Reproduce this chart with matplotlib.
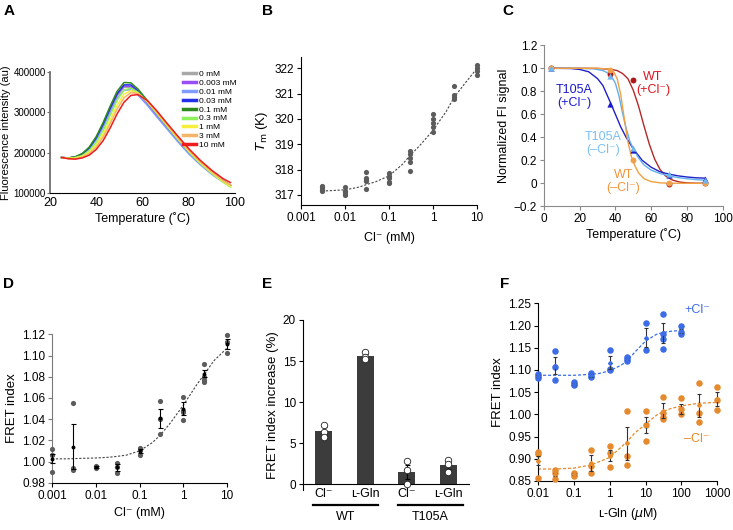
import matplotlib
matplotlib.use('Agg')
import matplotlib.pyplot as plt
import matplotlib.transforms as mtransforms

plt.rcParams['font.family'] = ['Liberation Sans', 'DejaVu Sans']
plt.rcParams['font.size'] = 8
plt.rcParams['axes.linewidth'] = 0.8
plt.rcParams['xtick.major.size'] = 3
plt.rcParams['ytick.major.size'] = 3
plt.rcParams['xtick.major.width'] = 0.8
plt.rcParams['ytick.major.width'] = 0.8
plt.rcParams['xtick.major.pad'] = 2
plt.rcParams['ytick.major.pad'] = 2

# ---------------- A: thermal melt curves (values in thousands of au)
temps_a = [25, 28, 31, 34, 37, 40, 43, 46, 49, 52, 55, 58, 62, 66, 70, 75, 80, 85, 90, 95, 98]
conc_a = ['0 mM', '0.003 mM', '0.01 mM', '0.03 mM', '0.1 mM', '0.3 mM', '1 mM', '3 mM', '10 mM']
colors_a = ['#a8a8a8', '#9a4cf5', '#7f9cff', '#2430e8', '#2e8a1c', '#8ef25a', '#f7ef3c', '#f4b46a', '#ee1c1c']
fl_0 = [188, 187, 189, 196, 210, 233, 266, 304, 340, 362, 362, 348, 322, 294, 267, 233, 201, 173, 149, 129, 119]
fl_0003 = [188, 187, 189, 197, 212, 236, 270, 308, 344, 365, 364, 349, 322, 294, 266, 232, 200, 172, 148, 128, 118]
fl_001 = [188, 187, 189, 196, 210, 232, 263, 300, 334, 355, 356, 343, 318, 290, 263, 229, 197, 170, 146, 127, 117]
fl_003 = [188, 187, 189, 197, 212, 237, 271, 310, 346, 368, 368, 354, 327, 299, 271, 237, 204, 175, 150, 129, 119]
fl_01 = [188, 187, 190, 198, 214, 240, 275, 315, 352, 374, 373, 358, 330, 302, 274, 240, 206, 177, 152, 130, 119]
fl_03 = [188, 186, 188, 193, 205, 225, 255, 292, 330, 355, 360, 350, 326, 298, 270, 235, 202, 173, 148, 126, 115]
fl_1 = [188, 186, 187, 191, 201, 219, 246, 281, 318, 345, 354, 348, 327, 300, 272, 237, 204, 175, 150, 128, 117]
fl_3 = [188, 185, 185, 189, 198, 214, 239, 272, 308, 336, 349, 346, 328, 302, 274, 239, 206, 177, 152, 130, 120]
fl_10 = [188, 185, 184, 187, 194, 208, 230, 261, 296, 325, 342, 344, 330, 305, 277, 243, 210, 181, 156, 135, 126]
curves_a = [fl_0, fl_0003, fl_001, fl_003, fl_01, fl_03, fl_1, fl_3, fl_10]

# ---------------- B: Tm vs Cl-
cl_b = [0.003, 0.01, 0.03, 0.1, 0.3, 1, 3, 10]
tm_b = [[317.35, 317.3, 317.25, 317.2, 317.15],
        [317.3, 317.15, 317.05, 317.0, 317.1],
        [317.9, 317.65, 317.55, 317.6, 317.25],
        [317.85, 317.75, 317.65, 317.5, 317.45],
        [318.75, 318.6, 318.45, 318.3, 317.95],
        [320.2, 320.0, 319.85, 319.7, 319.5],
        [321.3, 320.95, 320.85, 320.8],
        [322.15, 322.0, 321.9, 321.75]]
fit_b_x = [0.003, 0.005, 0.01, 0.02, 0.03, 0.05, 0.1, 0.2, 0.3, 0.5, 1, 2, 3, 5, 10]
fit_b_y = [317.15, 317.17, 317.2, 317.3, 317.4, 317.52, 317.75, 318.2, 318.55, 318.95, 319.55, 320.3, 320.85, 321.35, 322.0]

# ---------------- C: normalized FI signal
temp_c = [4, 37, 50, 70, 90]
wt_cl = [1.0, 0.95, 0.90, -0.01, 0.0]
wt_nocl = [1.0, 0.985, 0.20, 0.005, 0.0]
t105a_cl = [1.0, 0.69, 0.29, 0.075, 0.04]
t105a_nocl = [1.0, 0.93, 0.31, 0.08, 0.025]
fit_wt_cl_t = [4, 20, 30, 38, 41, 44, 47, 50, 53, 56, 59, 62, 65, 68, 72, 76, 80, 85, 90]
fit_wt_cl_y = [1.0, 1.0, 0.999, 0.99, 0.98, 0.955, 0.91, 0.81, 0.67, 0.5, 0.34, 0.21, 0.12, 0.065, 0.028, 0.011, 0.004, 0.001, 0.0]
fit_wt_nocl_t = [4, 20, 30, 35, 37, 39, 41, 43, 45, 47, 49, 51, 53, 56, 60, 65, 70, 80, 90]
fit_wt_nocl_y = [1.0, 1.0, 1.0, 0.995, 0.99, 0.97, 0.91, 0.77, 0.56, 0.36, 0.23, 0.15, 0.09, 0.04, 0.015, 0.004, 0.001, 0.0, 0.0]
fit_t_cl_t = [4, 15, 20, 25, 30, 33, 35, 37, 40, 43, 46, 50, 55, 60, 65, 70, 75, 80, 85, 90]
fit_t_cl_y = [1.0, 0.998, 0.99, 0.97, 0.91, 0.85, 0.78, 0.71, 0.6, 0.49, 0.4, 0.30, 0.2, 0.14, 0.1, 0.08, 0.065, 0.055, 0.048, 0.045]
fit_t_nocl_t = [4, 20, 28, 33, 37, 40, 42, 44, 46, 48, 50, 53, 56, 60, 65, 70, 75, 80, 85, 90]
fit_t_nocl_y = [1.0, 1.0, 0.995, 0.98, 0.95, 0.87, 0.76, 0.61, 0.48, 0.37, 0.30, 0.22, 0.16, 0.115, 0.085, 0.065, 0.05, 0.04, 0.032, 0.027]

# ---------------- D: FRET index vs Cl-
cl_d = [0.001, 0.003, 0.01, 0.03, 0.1, 0.3, 1, 3, 10]
fret_d = [[1.012, 1.006, 0.990],
          [1.055, 0.994, 0.992],
          [0.996, 0.995, 0.994],
          [0.999, 0.995, 0.989],
          [1.013, 1.011, 1.006],
          [1.0575, 1.040, 1.026],
          [1.061, 1.048, 1.047, 1.039],
          [1.092, 1.080, 1.077, 1.075],
          [1.119, 1.113, 1.102]]
mean_d = [1.0027, 1.014, 0.995, 0.9945, 1.010, 1.041, 1.050, 1.083, 1.111]
err_d = [0.004, 0.021, 0.001, 0.003, 0.002, 0.009, 0.0065, 0.003, 0.005]
fit_d_x = [0.001, 0.002, 0.005, 0.01, 0.02, 0.03, 0.05, 0.1, 0.2, 0.3, 0.5, 1, 2, 3, 5, 10]
fit_d_y = [1.0025, 1.0025, 1.003, 1.0033, 1.004, 1.0048, 1.006, 1.010, 1.018, 1.025, 1.036, 1.053, 1.072, 1.082, 1.095, 1.107]

# ---------------- E: FRET index increase
labels_e = ['Cl\u207b', '\u029f-Gln', 'Cl\u207b', '\u029f-Gln']
bars_e = [6.5, 15.6, 1.5, 2.3]
errs_e = [0.45, 0.25, 0.8, 0.4]
points_e = [[7.2, 6.4, 5.7], [16.1, 15.5, 15.3], [2.8, 1.7, 0.0], [2.9, 2.5, 1.5]]
groups_e = ['WT', 'T105A']

# ---------------- F: FRET index vs L-Gln
gln_plus = [0.01, 0.03, 0.1, 0.3, 1, 3, 10, 30, 100]
pts_plus = [[1.091, 1.086, 1.081], [1.143, 1.107, 1.077], [1.072, 1.068, 1.066],
            [1.092, 1.087, 1.083], [1.145, 1.102, 1.099], [1.128, 1.124, 1.121],
            [1.205, 1.144], [1.225, 1.18, 1.17, 1.148], [1.199, 1.186, 1.181]]
mean_plus = [1.086, 1.109, 1.068, 1.088, 1.116, 1.124, 1.173, 1.183, 1.188]
err_plus = [0.003, 0.019, 0.002, 0.003, 0.015, 0.002, 0.022, 0.023, 0.005]
fit_plus_x = [0.01, 0.1, 0.3, 0.5, 1, 2, 3, 5, 10, 20, 30, 50, 100]
fit_plus_y = [1.088, 1.088, 1.090, 1.092, 1.098, 1.110, 1.119, 1.140, 1.165, 1.180, 1.184, 1.187, 1.189]

gln_minus = [0.01, 0.03, 0.1, 0.3, 1, 3, 10, 30, 100, 300, 1000]
pts_minus = [[0.916, 0.910, 0.856], [0.875, 0.867, 0.854], [0.869, 0.866, 0.862],
             [0.920, 0.884, 0.867], [0.929, 0.912, 0.882], [1.008, 0.906, 0.886],
             [1.008, 0.976, 0.940], [1.038, 1.002, 0.995, 0.989], [1.036, 1.011, 1.0],
             [1.07, 1.002, 0.983], [1.062, 1.032, 1.01]]
mean_minus = [0.896, 0.865, 0.866, 0.890, 0.907, 0.935, 0.976, 1.008, 1.012, 1.020, 1.035]
err_minus = [0.01, 0.004, 0.002, 0.018, 0.013, 0.037, 0.019, 0.017, 0.012, 0.026, 0.016]
fit_minus_x = [0.01, 0.03, 0.1, 0.3, 1, 2, 3, 5, 10, 20, 30, 50, 100, 300, 1000]
fit_minus_y = [0.877, 0.877, 0.879, 0.886, 0.903, 0.925, 0.938, 0.958, 0.978, 0.998, 1.006, 1.013, 1.019, 1.025, 1.027]

W, H = 733, 530
fig = plt.figure(figsize=(W / 100, H / 100), dpi=100)


def box(l, r, t, b):
    return [l / W, 1 - b / H, (r - l) / W, (b - t) / H]


def clean(ax, left_color='black', bottom_color='black'):
    ax.spines['top'].set_visible(False)
    ax.spines['right'].set_visible(False)
    ax.spines['left'].set_color(left_color)
    ax.spines['bottom'].set_color(bottom_color)
    ax.tick_params(axis='y', colors=left_color, labelcolor='black', labelsize=8.5)
    ax.tick_params(axis='x', colors=bottom_color, labelcolor='black', labelsize=8.5)


def log_ticks(ax, ticks, labels):
    ax.set_xscale('log')
    ax.set_xticks(ticks)
    ax.set_xticklabels(labels)
    ax.minorticks_off()


# A
axA = fig.add_axes(box(50, 235, 72, 193))
for vals, col, lab in zip(curves_a, colors_a, conc_a):
    axA.plot(temps_a, [v * 1000 for v in vals], color=col, lw=1.1, label=lab)
axA.set_xlim(20, 100)
axA.set_ylim(100000, 400000)
axA.set_xticks([20, 40, 60, 80, 100])
axA.set_yticks([100000, 200000, 300000, 400000])
axA.set_yticklabels(['100000', '200000', '300000', '400000'])
clean(axA, left_color='#6e6e6e')
axA.spines['left'].set_linewidth(1.3)
axA.tick_params(axis='y', labelsize=7, length=2, pad=1)
axA.tick_params(axis='x', length=0, pad=3, labelsize=9)
axA.set_xlabel('Temperature (\u02daC)', fontsize=9, labelpad=2)
axA.set_ylabel('Fluorescence intensity (au)', fontsize=8, labelpad=2)
leg = axA.legend(loc='upper left', bbox_to_anchor=(0.70, 1.04), frameon=False, fontsize=6,
                 handlelength=1.6, handletextpad=0.3, labelspacing=0.12, borderaxespad=0)
for h in leg.get_lines():
    h.set_linewidth(2.5)

# B
axB = fig.add_axes(box(301, 477, 57, 205))
for c, vals in zip(cl_b, tm_b):
    axB.scatter([c] * len(vals), vals, s=14, color='#5c5c5c', zorder=3, clip_on=False, linewidths=0)
axB.plot(fit_b_x, fit_b_y, color='#444444', ls=(0, (2, 1.5)), lw=0.8, zorder=2)
log_ticks(axB, [0.001, 0.01, 0.1, 1, 10], ['0.001', '0.01', '0.1', '1', '10'])
axB.set_xlim(0.001, 10)
axB.set_ylim(316.6, 322.45)
axB.set_yticks([317, 318, 319, 320, 321, 322])
clean(axB)
axB.set_xlabel('Cl\u207b (mM)', fontsize=9, labelpad=6)
axB.set_ylabel('$T_\\mathrm{m}$ (K)', fontsize=9.5, labelpad=3)

# C
axC = fig.add_axes(box(544, 722.5, 45.3, 206.3))
axC.plot(fit_wt_cl_t, fit_wt_cl_y, color='#b42828', lw=1.0)
axC.plot(fit_t_cl_t, fit_t_cl_y, color='#2020c8', lw=1.0)
axC.plot(fit_t_nocl_t, fit_t_nocl_y, color='#5fb0ec', lw=1.0)
axC.plot(fit_wt_nocl_t, fit_wt_nocl_y, color='#f0a040', lw=1.0)
axC.scatter(temp_c, wt_cl, s=18, marker='o', color='#b01818', zorder=3, linewidths=0)
axC.scatter(temp_c, t105a_cl, s=20, marker='^', color='#1a1acc', zorder=3, linewidths=0)
axC.scatter(temp_c, wt_nocl, s=18, marker='o', color='#f0a04b', zorder=4, linewidths=0)
axC.scatter(temp_c, t105a_nocl, s=20, marker='^', color='#6fb6ef', zorder=4, linewidths=0)
axC.text(61, 0.87, 'WT\n(+Cl\u207b)', color='#e0141c', fontsize=9, ha='center', va='center', linespacing=1.1)
axC.text(17, 0.755, 'T105A\n(+Cl\u207b)', color='#1a1acc', fontsize=9, ha='center', va='center', linespacing=1.1)
axC.text(33, 0.35, 'T105A\n(\u2013Cl\u207b)', color='#7cc0f2', fontsize=9, ha='center', va='center', linespacing=1.1)
axC.text(44.5, 0.015, 'WT\n(\u2013Cl\u207b)', color='#f0963c', fontsize=9, ha='center', va='center', linespacing=1.1)
axC.set_xlim(0, 100)
axC.set_ylim(-0.2, 1.2)
axC.set_xticks([0, 20, 40, 60, 80, 100])
axC.set_yticks([-0.2, 0, 0.2, 0.4, 0.6, 0.8, 1.0, 1.2])
axC.set_yticklabels(['\u22120.2', '0', '0.2', '0.4', '0.6', '0.8', '1.0', '1.2'])
clean(axC, left_color='#8a8a8a', bottom_color='#8a8a8a')
axC.set_xlabel('Temperature (\u02daC)', fontsize=9, labelpad=2)
axC.set_ylabel('Normalized FI signal', fontsize=9, labelpad=3)

# D
axD = fig.add_axes(box(52, 227, 334.3, 482.7))
for c, vals in zip(cl_d, fret_d):
    axD.scatter([c] * len(vals), vals, s=14, color='#5c5c5c', zorder=3, clip_on=False, linewidths=0)
axD.plot(fit_d_x, fit_d_y, color='#444444', ls=(0, (2, 1.5)), lw=0.8, zorder=2)
axD.errorbar(cl_d, mean_d, yerr=err_d, fmt='o', ms=1.8, color='black', ecolor='black',
             elinewidth=0.8, capsize=1.8, capthick=0.8, zorder=4, clip_on=False)
log_ticks(axD, [0.001, 0.01, 0.1, 1, 10], ['0.001', '0.01', '0.1', '1', '10'])
axD.set_xlim(0.001, 10)
axD.set_ylim(0.98, 1.12)
axD.set_yticks([0.98, 1.00, 1.02, 1.04, 1.06, 1.08, 1.10, 1.12])
axD.set_yticklabels(['0.98', '1.00', '1.02', '1.04', '1.06', '1.08', '1.10', '1.12'])
clean(axD, left_color='#7a7a7a')
axD.set_xlabel('Cl\u207b (mM)', fontsize=9, labelpad=4)
axD.set_ylabel('FRET index', fontsize=9.5, labelpad=3)

# E
axE = fig.add_axes(box(303, 469, 320, 490))
xpos_e = [1, 2, 3, 4]
axE.bar(xpos_e, bars_e, width=0.4, color='#3c3c3c', zorder=2)
axE.errorbar(xpos_e, bars_e, yerr=errs_e, fmt='none', ecolor='black', elinewidth=0.8,
             capsize=1.8, capthick=0.8, zorder=3)
for x, vals in zip(xpos_e, points_e):
    axE.scatter([x] * len(vals), vals, s=22, facecolor='white', edgecolor='#222222',
                linewidths=0.6, zorder=4, clip_on=False)
axE.set_xlim(0.5, 4.5)
axE.set_ylim(-0.7, 20)
axE.set_yticks([0, 5, 10, 15, 20])
axE.set_xticks(xpos_e)
axE.set_xticklabels(labels_e)
clean(axE)
axE.spines['bottom'].set_position(('data', 0))
axE.tick_params(axis='x', length=0, pad=3, labelsize=9)
axE.set_ylabel('FRET index increase (%)', fontsize=9.5, labelpad=3)
trE = mtransforms.blended_transform_factory(axE.transData, axE.transAxes)
for (x0, x1), g in zip([(0.75, 2.3), (2.8, 4.35)], groups_e):
    axE.plot([x0, x1], [-0.088, -0.088], color='black', lw=1.6, transform=trE, clip_on=False)
    axE.text((x0 + x1) / 2, -0.125, g, transform=trE, ha='center', va='top', fontsize=9)

# F
axF = fig.add_axes(box(538, 717.3, 303.3, 481))
blue_f, orange_f = '#3d6de6', '#e68a2e'
for c, vals in zip(gln_plus, pts_plus):
    axF.scatter([c] * len(vals), vals, s=22, color=blue_f, zorder=3, clip_on=False, linewidths=0)
for c, vals in zip(gln_minus, pts_minus):
    axF.scatter([c] * len(vals), vals, s=22, color=orange_f, zorder=3, clip_on=False, linewidths=0)
axF.plot(fit_plus_x, fit_plus_y, color=blue_f, ls=(0, (2.5, 1.5)), lw=0.9, zorder=2)
axF.plot(fit_minus_x, fit_minus_y, color=orange_f, ls=(0, (2.5, 1.5)), lw=0.9, zorder=2)
axF.errorbar(gln_plus, mean_plus, yerr=err_plus, fmt='D', ms=2, color=blue_f, ecolor='#333333',
             elinewidth=0.8, capsize=1.5, capthick=0.8, zorder=4, clip_on=False)
axF.errorbar(gln_minus, mean_minus, yerr=err_minus, fmt='D', ms=2, color=orange_f, ecolor='#333333',
             elinewidth=0.8, capsize=1.5, capthick=0.8, zorder=4, clip_on=False)
axF.text(270, 1.235, '+Cl\u207b', color=blue_f, fontsize=9, ha='center', va='center')
axF.text(270, 0.945, '\u2013Cl\u207b', color=orange_f, fontsize=9, ha='center', va='center')
log_ticks(axF, [0.01, 0.1, 1, 10, 100, 1000], ['0.01', '0.1', '1', '10', '100', '1000'])
axF.set_xlim(0.01, 1000)
axF.set_ylim(0.85, 1.25)
axF.set_yticks([0.85, 0.90, 0.95, 1.00, 1.05, 1.10, 1.15, 1.20, 1.25])
axF.set_yticklabels(['0.85', '0.90', '0.95', '1.00', '1.05', '1.10', '1.15', '1.20', '1.25'])
clean(axF)
axF.set_xlabel('\u029f-Gln ($\\mu$M)', fontsize=9, labelpad=4)
axF.set_ylabel('FRET index', fontsize=9.5, labelpad=3)

# panel letters
for letter, (px, py) in zip('ABCDEF', [(4, 4), (262, 4), (502, 4), (3, 277), (262, 277), (500, 277)]):
    fig.text(px / W, 1 - py / H, letter, fontsize=11, fontweight='bold', ha='left', va='top')

fig.savefig('out.png', dpi=100)
